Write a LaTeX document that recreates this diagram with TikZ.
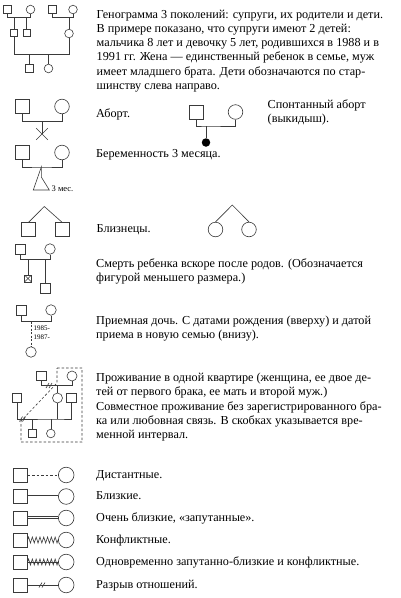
\documentclass[tikz,border=0pt]{standalone}
\usepackage{fontspec}
\setmainfont{Liberation Serif}
\usetikzlibrary{positioning, calc, shapes.misc, decorations.pathmorphing}
\definecolor{lncol}{HTML}{3A3A3A}
\newcommand{\txtsize}{\fontsize{12.2}{14.2}\selectfont}

\begin{document}
\begin{tikzpicture}[x=1pt, y=-1pt,
    male/.style={draw=lncol, rectangle, minimum size=#1, inner sep=0pt, line width=0.6pt},
    male/.default=14pt,
    female/.style={draw=lncol, circle, minimum size=#1, inner sep=0pt, line width=0.6pt},
    female/.default=14.6pt,
    lnk/.style={draw=lncol, line width=0.6pt},
    txt/.style={anchor=north west, align=left, inner sep=0pt, font=\txtsize},
    note/.style={anchor=west, inner sep=0pt, font=\fontsize{#1}{#1}\selectfont},
    note/.default=7pt,
    zz/.style={decorate, decoration={zigzag, segment length=3.8pt, amplitude=3pt}},
]
\useasboundingbox (0,0) rectangle (400,598);

% three generations
\node[male=7.7pt] (gpa1) at (7.5,9.3) {};
\node[female=8.6pt] (gma1) at (30.5,9.5) {};
\node[male=7.7pt] (gpa2) at (52,9.3) {};
\node[female=8.6pt] (gma2) at (73,9.5) {};
\node[male=7.5pt] (hus) at (13.8,33) {};
\node[male=7.5pt] (bro) at (26.7,33) {};
\node[female=8.6pt] (wif) at (69,33.5) {};
\node[male=7.5pt] (son) at (29.5,68.5) {};
\node[female=8.6pt] (dau) at (48.5,68.5) {};
\coordinate (mar1) at (0,17.3);
\coordinate (mar2) at (0,54.3);
\draw[lnk] (gpa1.south) -- (gpa1.south |- mar1) -| (gma1.south);
\draw[lnk] (gpa2.south) -- (gpa2.south |- mar1) -| (gma2.south);
\draw[lnk] (hus.north) -- (hus.north |- mar1);
\draw[lnk] (bro.north) -- (bro.north |- mar1);
\draw[lnk] (wif.north) -- (wif.north |- mar1);
\draw[lnk] (hus.south) -- (hus.south |- mar2) -| (wif.south);
\draw[lnk] (son.north) -- (son.north |- mar2);
\draw[lnk] (dau.north) -- (dau.north |- mar2);
\node[txt] (t1) at (96.5,8.1) {\strut Генограмма 3 поколений: супруги, их родители и дети.\\
В примере показано, что супруги имеют 2 детей:\\
мальчика 8 лет и девочку 5 лет, родившихся в 1988 и в\\
1991 гг. Жена --- единственный ребенок в семье, муж\\
имеет младшего брата. Дети обозначаются по стар-\\
шинству слева направо.};

% abortion
\node[male] (ab1) at (22,106.5) {};
\node[female] (ab2) at (62,106.5) {};
\coordinate (abm) at (42,121.5);
\draw[lnk] (ab1.south) |- (abm) -| (ab2.south);
\node[cross out, draw=lncol, line width=0.6pt, minimum size=11pt, inner sep=0pt] (abx) at (42,134) {};
\draw[lnk] (abm) -- (abx.center);
\node[txt] (t2) at (96,107.6) {\strut Аборт.};

% miscarriage
\node[male] (sp1) at (196.3,112) {};
\node[female] (sp2) at (235.5,112) {};
\coordinate (spm) at (206,126);
\draw[lnk] (sp1.south) |- (spm) -| (sp2.south);
\node[circle, fill=black, minimum size=8.5pt, inner sep=0pt] (spd) at (206,142.5) {};
\draw[lnk] (spm) -- (spd);
\node[txt] (t3) at (267.5,98.1) {\strut Спонтанный аборт\\(выкидыш).};

% pregnancy
\node[male] (pr1) at (22,152.5) {};
\node[female] (pr2) at (62,152.5) {};
\coordinate (prm) at (41.3,167);
\coordinate (pra) at (41.3,177);
\draw[lnk] (pr1.south) |- (prm) -| (pr2.south);
\draw[lnk] (prm) -- (pra) -- ++(8,13) -- ++(-16,0) -- cycle;
\node[note=8.5pt] (prn) at (51.5,188.5) {3 мес.};
\node[txt] (t4) at (96,147.6) {\strut Беременность 3 месяца.};

% twins
\coordinate (twa) at (44.3,206.5);
\node[male] (tw1) at (28.7,229.5) {};
\node[male] (tw2) at (62,229.5) {};
\draw[lnk] (tw1.north) -- (twa) -- (tw2.north);
\coordinate (twb) at (232.3,205);
\node[female] (tw3) at (215.5,229.5) {};
\node[female] (tw4) at (249,229.5) {};
\draw[lnk] (tw3.north) -- (twb) -- (tw4.north);
\node[txt] (t5) at (96.5,222.6) {\strut Близнецы.};

% infant death
\node[male=10pt] (de1) at (20,249) {};
\node[female=10.5pt] (de2) at (50,249) {};
\coordinate (dem) at (0,259);
\draw[lnk] (de1.south) -- (de1.south |- dem) -| (de2.south);
\node[male=7pt, path picture={\draw[lncol, line width=0.5pt]
    (path picture bounding box.north west) -- (path picture bounding box.south east)
    (path picture bounding box.north east) -- (path picture bounding box.south west);}] (de3) at (28,278.5) {};
\node[male=10pt] (de4) at (45,288) {};
\draw[lnk] (de3.north) -- (de3.north |- dem);
\draw[lnk] (de4.north) -- (de4.north |- dem);
\node[txt] (t6) at (96,257.1) {\strut Смерть ребенка вскоре после родов. (Обозначается\\
фигурой меньшего размера.)};

% adoption
\node[male=10pt] (ad1) at (21,310) {};
\node[female=10.5pt] (ad2) at (51,310) {};
\coordinate (adm) at (31,321.5);
\draw[lnk] (ad1.south) |- (adm) -| (ad2.south);
\node[female=10.5pt] (ad3) at (31,352) {};
\draw[lnk, dash pattern=on 2pt off 1.5pt] (adm) -- (ad3.north);
\node[note] (ad4) at (33.5,328.5) {1985-};
\node[note] (ad5) at (33.5,337.5) {1987-};
\node[txt] (t7) at (96,314.6) {\strut Приемная дочь. С датами рождения (вверху) и датой\\
приема в новую семью (внизу).};

% household
\node[male=9.5pt] (co1) at (41.5,376) {};
\node[female=10pt] (co2) at (72,376) {};
\coordinate (com1) at (57.5,385.5);
\draw[lnk] (co1.south) |- (com1) -| (co2.south);
\draw[lnk] ($(com1)+(-11.5,2.5)$) -- ++(3,-5) ($(com1)+(-8.5,2.5)$) -- ++(3,-5);
\node[female=10pt] (co3) at (57.5,398) {};
\draw[lnk] (com1) -- (co3.north);
\node[male=9.5pt] (co4) at (17,398) {};
\node[male=9.5pt] (co5) at (71.5,398) {};
\coordinate (com2) at (57.5,419);
\draw[lnk] (co4.south) |- (com2) -| (co5.south);
\draw[lnk] (co3.south) -- (com2);
\draw[lnk] ($(com2)+(-38,2.5)$) -- ++(3,-5) ($(com2)+(-35,2.5)$) -- ++(3,-5);
\node[male=8pt] (co6) at (32,433.5) {};
\node[female=8.6pt] (co7) at (50.8,433.5) {};
\draw[lnk] (co6.north) -- (co6.north |- com2);
\draw[lnk] (co7.north) -- (co7.north |- com2);
\draw[lnk, dash pattern=on 2.5pt off 2pt] (57,368) -- (82,368) -- (82,442) -- (21,442) -- (21,421) -- (57,383) -- cycle;
\node[txt] (t8) at (96,371.1) {\strut Проживание в одной квартире (женщина, ее двое де-\\
тей от первого брака, ее мать и второй муж.)};
\node[txt] (t9) at (96,400.1) {\strut Совместное проживание без зарегистрированного бра-\\
ка или любовная связь. В скобках указывается вре-\\
менной интервал.};

% relationships
\foreach \i/\yy in {1/475, 2/496.5, 3/518, 4/540, 5/562, 6/585} {
  \node[male] (rm\i) at (20.3,\yy) {};
  \node[female=15.6pt] (rf\i) at (66.2,\yy) {};
}
\draw[lnk, dash pattern=on 2.5pt off 2pt] (rm1.east) -- (rf1.west);
\draw[lnk, double, double distance=2pt] (rm2.east) -- (rf2.west);
\draw[lnk, double, double distance=3pt] (rm3.east) -- (rf3.west);
\draw[lnk] (rm3.east) -- (rf3.west);
\draw[lnk, zz] (rm4.east) -- (rf4.west);
\draw[lnk, double, double distance=5.4pt] (rm5.east) -- (rf5.west);
\draw[lnk] (rm5.east) -- (rf5.west);
\draw[lnk, zz] (rm5.east) -- (rf5.west);
\draw[lnk] (rm6.east) -- (rf6.west);
\draw[lnk] (39,587.5) -- ++(3,-5) (42,587.5) -- ++(3,-5);
\node[txt] (r1) at (96,468.1) {\strut Дистантные.};
\node[txt] (r2) at (96,489.6) {\strut Близкие.};
\node[txt] (r3) at (96,511.1) {\strut Очень близкие, «запутанные».};
\node[txt] (r4) at (96,533.1) {\strut Конфликтные.};
\node[txt] (r5) at (96,555.1) {\strut Одновременно запутанно-близкие и конфликтные.};
\node[txt] (r6) at (96,578.1) {\strut Разрыв отношений.};
\end{tikzpicture}
\end{document}
